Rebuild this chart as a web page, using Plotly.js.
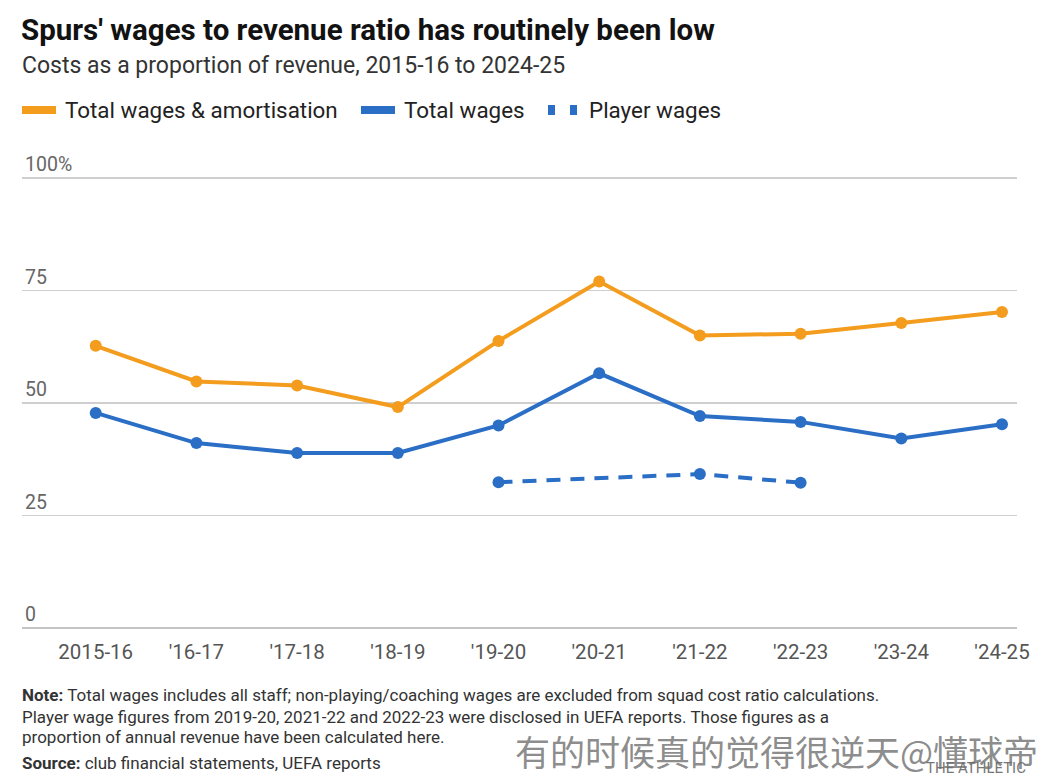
<!DOCTYPE html>
<html>
<head>
<meta charset="utf-8">
<script src="https://cdn.plot.ly/plotly-3.0.1.min.js"></script>
<style>
  html, body { margin: 0; padding: 0; background: #fff; }
  #chart { width: 1057px; height: 784px; }
</style>
</head>
<body>
<div id="chart"></div>
<script>
// seasons on the x axis
const seasons = ['2015-16', "'16-17", "'17-18", "'18-19", "'19-20", "'20-21", "'21-22", "'22-23", "'23-24", "'24-25"];

// % of revenue
const wagesAmort = [62.7, 54.8, 53.9, 49.1, 63.8, 77.0, 65.0, 65.4, 67.8, 70.2];
const totalWages = [47.8, 41.1, 38.9, 38.9, 45.0, 56.6, 47.1, 45.8, 42.1, 45.3];
const playerWages = [null, null, null, null, 32.4, null, 34.2, 32.3, null, null];

const yTicks = [0, 25, 50, 75, 100];
const yTickText = ['0', '25', '50', '75', '100%'];

const ORANGE = '#f39c1e';
const BLUE = '#2a6ec6';
const FONT = 'Roboto, "Liberation Sans", sans-serif';

// plot box in pixels: left 22, right 1017, y=0 at 628, 4.5px per point,
// range runs a bit past 100 so the top label fits inside
const YMAX = 106;
const L = 22, W = 995, B = 628, H = 4.5 * YMAX;
function px(xp) { return (xp - L) / W; }
function py(yp) { return (B - yp) / H; }

const traces = [
  {
    x: seasons, y: wagesAmort, type: 'scatter', mode: 'lines+markers',
    name: 'Total wages & amortisation',
    line: { color: ORANGE, width: 4 },
    marker: { color: ORANGE, size: 12 },
    cliponaxis: false
  },
  {
    x: seasons, y: totalWages, type: 'scatter', mode: 'lines+markers',
    name: 'Total wages',
    line: { color: BLUE, width: 4 },
    marker: { color: BLUE, size: 12 },
    cliponaxis: false
  },
  {
    x: seasons, y: playerWages, type: 'scatter', mode: 'lines+markers',
    name: 'Player wages', connectgaps: true,
    line: { color: BLUE, width: 4, dash: '14px,10px' },
    marker: { color: BLUE, size: 12 },
    cliponaxis: false
  }
];

// legend drawn by hand so it sits like the original
const legendItems = [
  { label: 'Total wages & amortisation', x: 63 },
  { label: 'Total wages', x: 402 },
  { label: 'Player wages', x: 587 }
];

const shapes = [
  { x0: 22, x1: 56, y0: 114, y1: 106, c: ORANGE },
  { x0: 361, x1: 395, y0: 114, y1: 106, c: BLUE },
  { x0: 548, x1: 555, y0: 115, y1: 105, c: BLUE },
  { x0: 570, x1: 577, y0: 115, y1: 105, c: BLUE }
].map(s => ({ type: 'rect', xref: 'paper', yref: 'paper', x0: px(s.x0), x1: px(s.x1), y0: py(s.y0), y1: py(s.y1), line: { width: 0 }, fillcolor: s.c }));

const annotations = [
  { text: "<b>Spurs' wages to revenue ratio has routinely been low</b>", x: px(19), y: py(30), font: { size: 29.5, color: '#121212', family: FONT } },
  { text: 'Costs as a proportion of revenue, 2015-16 to 2024-25', x: px(20), y: py(66), font: { size: 23, color: '#333', family: FONT } },
  { text: '<b>Note:</b> Total wages includes all staff; non-playing/coaching wages are excluded from squad cost ratio calculations.', x: px(20), y: py(695), font: { size: 17, color: '#333', family: FONT } },
  { text: 'Player wage figures from 2019-20, 2021-22 and 2022-23 were disclosed in UEFA reports. Those figures as a', x: px(20), y: py(717), font: { size: 17, color: '#333', family: FONT } },
  { text: 'proportion of annual revenue have been calculated here.', x: px(20), y: py(737), font: { size: 17, color: '#333', family: FONT } },
  { text: '<b>Source:</b> club financial statements, UEFA reports', x: px(20), y: py(763), font: { size: 17, color: '#333', family: FONT } },
  { text: 'THE ATHLETIC', x: px(924), y: py(768), font: { size: 15, color: '#777', family: FONT } },
  { text: '有的时候真的觉得很逆天@懂球帝', x: px(513), y: py(750), font: { size: 35, color: 'rgba(110,110,110,0.8)', family: '"Noto Sans CJK SC", sans-serif' } }
].map(a => Object.assign({ xref: 'paper', yref: 'paper', xanchor: 'left', yanchor: 'middle', showarrow: false }, a));

legendItems.forEach(it => {
  annotations.push({ text: it.label, x: px(it.x), y: py(110), xref: 'paper', yref: 'paper', xanchor: 'left', yanchor: 'middle', showarrow: false, font: { size: 22.4, color: '#222', family: FONT } });
});

const layout = {
  width: 1057, height: 784,
  margin: { l: L, r: 1057 - L - W, t: B - H, b: 784 - B },
  paper_bgcolor: '#fff', plot_bgcolor: '#fff',
  showlegend: false,
  font: { family: FONT, color: '#555' },
  xaxis: {
    type: 'category', range: [-0.732, 9.149],
    showgrid: false, zeroline: false, showline: false,
    ticks: '', tickfont: { size: 20.5, color: '#555', family: FONT },
    ticklabelstandoff: 9, fixedrange: true
  },
  yaxis: {
    range: [0, YMAX], tickvals: yTicks, ticktext: yTickText,
    ticklabelposition: 'inside top',
    tickfont: { size: 19.5, color: '#666', family: FONT },
    showgrid: true, gridcolor: '#cfcfcf', gridwidth: 1.5,
    zeroline: true, zerolinecolor: '#c4c4c4', zerolinewidth: 2,
    showline: false, ticks: '', fixedrange: true
  },
  shapes: shapes,
  annotations: annotations
};

Plotly.newPlot('chart', traces, layout, { displayModeBar: false, staticPlot: true });
</script>
</body>
</html>
